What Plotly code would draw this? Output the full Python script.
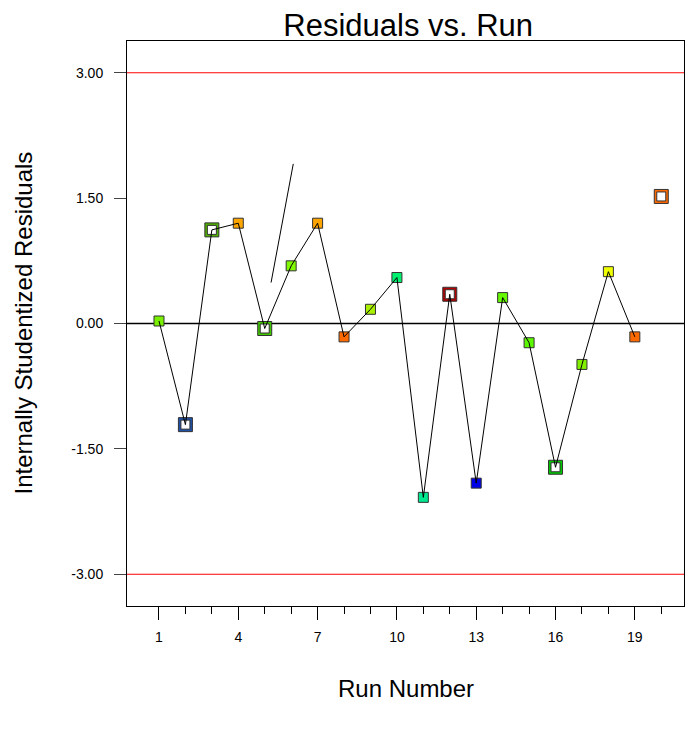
import plotly.graph_objects as go

runs = list(range(1, 21))
residuals = [0.03, -1.21, 1.12, 1.20, -0.06, 0.69, 1.20, -0.16, 0.17, 0.55,
             -2.08, 0.35, -1.91, 0.31, -0.23, -1.72, -0.49, 0.62, -0.16, 1.52]
colors = ["#78F000", "#1F50A8", "#50B000", "#FFA500", "#40C800", "#80F800", "#FFA500",
          "#FF6A00", "#A8F000", "#00F070", "#00E890", "#B00000", "#0000E8", "#66F800",
          "#5CF800", "#00C800", "#80F000", "#F0FF00", "#FF6A00", "#FF6A00"]
hollow = [False, True, True, False, True, False, False, False, False, False,
          False, True, False, False, False, True, False, False, False, True]
connected_runs = 19  # run 20 is not joined by the line
stray_x = [5.24, 6.08]
stray_y = [0.49, 1.91]
limit_lines = [3.0, -3.0]
y_ticks = [-3.0, -1.5, 0.0, 1.5, 3.0]
y_tick_labels = ["-3.00", "-1.50", "0.00", "1.50", "3.00"]
x_major_ticks = [1, 4, 7, 10, 13, 16, 19]

fig = go.Figure()

for v in limit_lines:
    fig.add_hline(y=v, line=dict(color="#FF0000", width=1.2), layer="below")
fig.add_hline(y=0, line=dict(color="#000000", width=1.5), layer="below")

fx = [r for r, h in zip(runs, hollow) if not h]
fy = [v for v, h in zip(residuals, hollow) if not h]
fc = [c for c, h in zip(colors, hollow) if not h]
hx = [r for r, h in zip(runs, hollow) if h]
hy = [v for v, h in zip(residuals, hollow) if h]
hc = [c for c, h in zip(colors, hollow) if h]

fig.add_trace(go.Scatter(x=fx, y=fy, mode="markers",
                         marker=dict(symbol="square", size=10, color=fc,
                                     line=dict(color="#333333", width=1)),
                         showlegend=False))
fig.add_trace(go.Scatter(x=hx, y=hy, mode="markers",
                         marker=dict(symbol="square", size=14, color=hc,
                                     line=dict(color="#333333", width=1)),
                         showlegend=False))
fig.add_trace(go.Scatter(x=hx, y=hy, mode="markers",
                         marker=dict(symbol="square", size=9, color="white",
                                     line=dict(color="#333333", width=1)),
                         showlegend=False))
fig.add_trace(go.Scatter(x=runs[:connected_runs], y=residuals[:connected_runs], mode="lines",
                         line=dict(color="#000000", width=1), showlegend=False))
fig.add_trace(go.Scatter(x=stray_x, y=stray_y, mode="lines",
                         line=dict(color="#000000", width=1), showlegend=False))

fig.update_layout(
    width=696, height=729,
    margin=dict(l=119, r=20, t=33, b=131),
    paper_bgcolor="white", plot_bgcolor="white",
    font=dict(family="Liberation Sans, Arial, sans-serif", color="#000000"),
    title=dict(text="Residuals vs. Run", x=0.575, xanchor="center",
               y=0.977, yanchor="middle",
               font=dict(size=31, color="#000000")),
    xaxis=dict(range=[-0.21, 20.86], tickmode="array", tickvals=x_major_ticks,
               ticks="outside", ticklen=13, tickcolor="#000000", tickwidth=1,
               showline=True, linecolor="#000000", linewidth=1, mirror=True,
               showgrid=False, zeroline=False, ticklabelstandoff=5,
               tickfont=dict(size=14),
               minor=dict(tickmode="array", tickvals=runs, ticks="outside", ticklen=7,
                          tickcolor="#000000", showgrid=False)),
    yaxis=dict(range=[-3.38, 3.38], tickmode="array", tickvals=y_ticks,
               ticktext=y_tick_labels,
               ticks="outside", ticklen=12, tickcolor="#444444", tickwidth=1,
               showline=True, linecolor="#000000", linewidth=1, mirror=True,
               showgrid=False, zeroline=False, ticklabelstandoff=8,
               tickfont=dict(size=14)),
    annotations=[
        dict(text="Run Number", xref="paper", yref="paper", x=0.5, y=0,
             yshift=-82, showarrow=False, font=dict(size=24),
             xanchor="center", yanchor="middle"),
        dict(text="Internally Studentized Residuals", xref="paper", yref="paper",
             x=0, y=0.5, xshift=-104, textangle=-90, showarrow=False,
             font=dict(size=24), xanchor="center", yanchor="middle"),
    ],
)

fig.write_html("out.html")
